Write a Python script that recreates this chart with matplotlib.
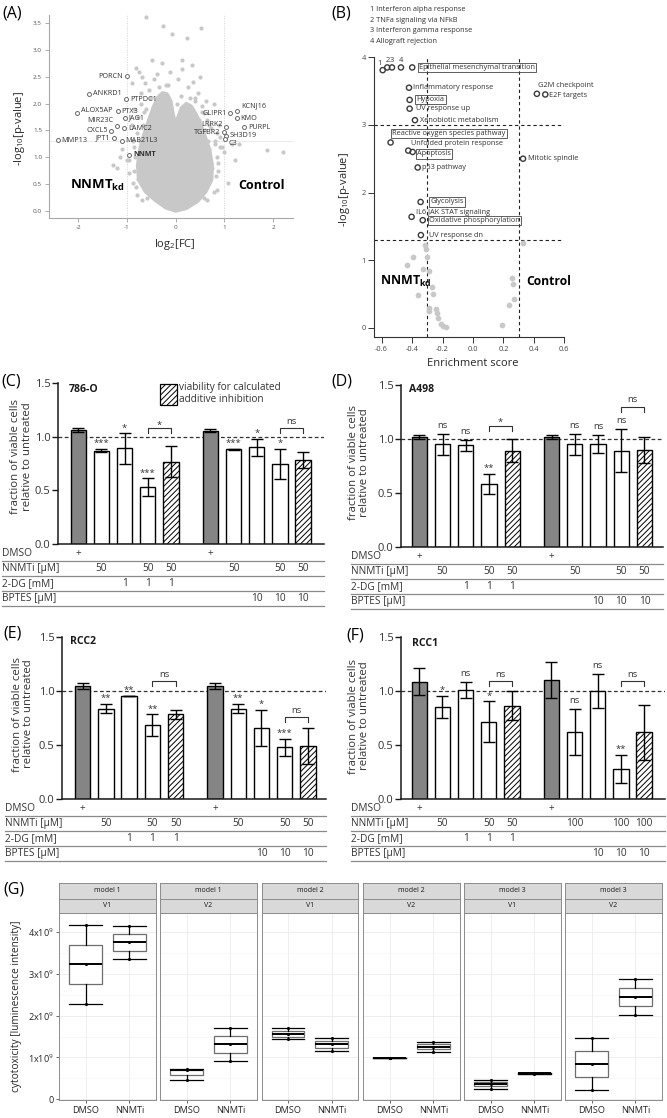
import matplotlib
matplotlib.use("Agg")
import matplotlib.pyplot as plt
import matplotlib.transforms as mtransforms
from matplotlib.patches import Rectangle
from matplotlib.lines import Line2D
from matplotlib.ticker import MultipleLocator

plt.rcParams["font.family"] = ["Open Sans", "DejaVu Sans"]
plt.rcParams["mathtext.fontset"] = "custom"
plt.rcParams["mathtext.rm"] = "Open Sans"
plt.rcParams["mathtext.it"] = "Open Sans:italic"
plt.rcParams["mathtext.bf"] = "Open Sans:bold"
plt.rcParams["hatch.linewidth"] = 0.7
plt.rcParams["axes.unicode_minus"] = False

# ======================= DATA =======================
# (A) volcano plot - labelled genes
volcano_genes = ["PORCN", "ANKRD1", "PTPDC1", "ALOX5AP", "PTX3", "JAG1", "MIR23C", "LAMC2",
                 "CXCL5", "JPT1", "MMP13", "MAB21L3", "NNMT", "GLIPR1", "KCNJ16", "KMO",
                 "LRRK2", "PURPL", "TGFBR2", "SH3D19", "C3"]
volcano_lfc = [-1.00, -1.77, -1.01, -2.02, -1.19, -1.03, -1.21, -1.05, -1.32, -1.27, -2.42,
               -1.10, -0.95, 1.12, 1.27, 1.26, 1.04, 1.41, 1.00, 1.03, 1.02]
volcano_logp = [2.51, 2.18, 2.08, 1.82, 1.86, 1.73, 1.59, 1.54, 1.49, 1.36, 1.32, 1.31,
                1.05, 1.82, 1.87, 1.73, 1.57, 1.56, 1.47, 1.40, 1.34]
volcano_side = ["L", "R", "R", "R", "R", "R", "L", "R", "L", "L", "R", "R", "R", "L", "R",
                "R", "L", "R", "L", "R", "R"]
volcano_dy_px = [0, 0, 0, 2.3, 0, 0, 4.7, 0, 0, 0, 0, 0, 0, 0, 4.7, 0, 2.7, 0, 0, 0, -4]
# dense protein cloud outline (log2FC, -log10 p)
cloud_lfc = [0.0, -0.20, -0.42, -0.62, -0.76, -0.78, -0.74, -0.66, -0.55, -0.45, -0.36,
             -0.27, -0.18, -0.10, -0.05, 0.0, 0.05, 0.12, 0.22, 0.32, 0.42, 0.50, 0.60,
             0.70, 0.75, 0.74, 0.62, 0.45, 0.22]
cloud_logp = [0.0, 0.06, 0.20, 0.36, 0.58, 0.85, 1.13, 1.40, 1.70, 1.95, 2.12, 2.20, 2.18,
              2.05, 1.80, 1.60, 1.75, 1.92, 2.00, 1.95, 1.80, 1.65, 1.40, 1.13, 0.85, 0.58,
              0.36, 0.18, 0.05]
# scattered proteins outside the dense cloud
bg_lfc = [-0.61, -0.26, 0.52, -0.08, 0.23, -0.49, 0.13, -0.28, -0.81, -0.75, -0.69, 0.50,
          0.14, -0.11, 0.33, -0.90, -0.62, -0.38, -0.45, 0.05, 0.35, -0.15, 0.25, -0.55,
          0.45, -0.72, 0.78, 0.58, 0.65, 0.72, 0.85, 0.91, 0.80, 0.95, 0.68, 1.21, 1.08,
          0.88, 0.75, 1.15, 1.87, 2.21, 0.62, 0.55, 0.90, 1.00, 0.70, 0.85, 1.30, -1.00,
          -1.28, -1.21, -0.87, -1.10, -0.85, -0.80, -0.90, -0.78, -0.85, -0.95, -0.80,
          -0.70, -1.15, -0.72, -0.65, 0.40, -0.35, 0.02, -0.02, 0.30, 0.66, 0.72, -0.74,
          -0.77, 0.60, 0.48, -0.86, -0.84, -0.88, -0.82, 0.82, 0.84, 0.80, 0.86, -0.58,
          -0.50, 0.58, 0.68, -0.66, 0.64, 0.12, -0.20, 0.40, -0.95, 0.92, 0.78, -0.60, 0.55]
bg_logp = [3.61, 3.45, 3.40, 3.29, 3.22, 2.82, 2.82, 2.75, 2.66, 2.58, 2.50, 2.50, 2.65,
           2.59, 2.72, 2.38, 2.38, 2.55, 2.45, 2.45, 2.40, 2.35, 2.30, 2.25, 2.20, 2.20,
           1.99, 1.82, 1.70, 1.55, 1.45, 1.38, 1.25, 1.20, 1.15, 0.95, 0.52, 0.90, 0.80,
           1.25, 1.14, 1.10, 2.05, 1.95, 1.60, 1.10, 0.60, 0.40, 1.25, 0.95, 0.86, 0.80,
           0.52, 1.15, 1.20, 1.45, 1.60, 1.75, 1.90, 0.70, 0.30, 0.20, 1.00, 2.00, 1.85,
           2.05, 2.30, 2.00, 1.55, 2.10, 1.30, 0.90, 1.30, 0.60, 1.50, 1.70, 0.75, 1.00,
           1.30, 0.45, 0.65, 1.00, 1.30, 0.75, 0.25, 2.10, 0.25, 1.60, 1.60, 0.20, 2.15,
           2.35, 2.10, 0.95, 1.20, 0.35, 1.90, 1.85]

# (B) GSEA hallmark pathways
gsea_terms = ["Interferon alpha response", "TNFa signaling via NFkB", "Interferon gamma response",
              "Allograft rejection", "Epithelial mesenchymal transition", "Inflammatory response",
              "Hypoxia", "UV response up", "Xenobiotic metabolism", "Reactive oxygen species pathway",
              "Unfolded protein response", "Apoptosis", "p53 pathway", "G2M checkpoint",
              "E2F targets", "Mitotic spindle", "Glycolysis", "IL6 JAK STAT signaling",
              "Oxidative phosphorylation", "UV response dn"]
gsea_es = [-0.593, -0.563, -0.532, -0.473, -0.399, -0.420, -0.416, -0.416, -0.381, -0.541,
           -0.425, -0.396, -0.363, 0.420, 0.475, 0.329, -0.344, -0.403, -0.330, -0.342]
gsea_logp = [3.81, 3.85, 3.85, 3.85, 3.85, 3.55, 3.37, 3.24, 3.07, 2.74, 2.62, 2.60, 2.37,
             3.46, 3.45, 2.50, 1.86, 1.64, 1.59, 1.37]
gsea_label = ["1", "2", "3", "4", "Epithelial mesenchymal transition", "Inflammatory response",
              "Hypoxia", "UV response up", "Xenobiotic metabolism", "Reactive oxygen species pathway",
              "Unfolded protein response", "Apoptosis", "p53 pathway", "G2M checkpoint",
              "E2F targets", "Mitotic spindle", "Glycolysis", "IL6 JAK STAT signaling",
              "Oxidative phosphorylation", "UV response dn"]
gsea_boxed = [False, False, False, False, True, False, True, False, False, True, False, True,
              False, False, False, False, True, False, True, False]
gsea_dx_px = [-2.7, 0.4, 0, 0, 6.5, 4.3, 6.8, 6, 5, 1.5, 2.7, 4.8, 4.3, 1.3, 4, 4.7, 9.5, 4.3,
              6.1, 7.7]
gsea_dy_px = [7, 6.6, 6.6, 7, 0, 0, 0, 0, 0, 9, 6.7, -2, 0, 8, -1.3, 0, 0, 4.4, 0, 0]
gsea_ns_es = [-0.313, -0.31, -0.30, -0.394, -0.43, -0.328, -0.287, -0.27, -0.26, -0.363, -0.287,
              -0.29, -0.243, -0.235, -0.228, -0.212, -0.20, -0.18, 0.326, 0.254, 0.263, 0.27,
              0.237, 0.19]
gsea_ns_logp = [1.22, 1.16, 1.04, 1.05, 0.93, 0.87, 0.84, 0.60, 0.50, 0.48, 0.29, 0.24, 0.27,
                0.22, 0.15, 0.06, 0.03, 0.01, 1.25, 0.74, 0.65, 0.42, 0.33, 0.04]
gsea_legend = ["1 Interferon alpha response", "2 TNFa signaling via NFkB",
               "3 Interferon gamma response", "4 Allograft rejection"]

# (C)-(F) viability bar charts (10 conditions)
bar_kind = ["dmso", "single", "single", "combo", "calc", "dmso", "single", "single", "combo", "calc"]
row_labels = ["DMSO", "NNMTi [µM]", "2-DG [mM]", "BPTES [µM]"]
table_50 = [["+", "", "", "", "", "+", "", "", "", ""],
            ["", "50", "", "50", "50", "", "50", "", "50", "50"],
            ["", "", "1", "1", "1", "", "", "", "", ""],
            ["", "", "", "", "", "", "", "10", "10", "10"]]
table_rcc1 = [["+", "", "", "", "", "+", "", "", "", ""],
              ["", "50", "", "50", "50", "", "100", "", "100", "100"],
              ["", "", "1", "1", "1", "", "", "", "", ""],
              ["", "", "", "", "", "", "", "10", "10", "10"]]

c786_mean = [1.062, 0.870, 0.890, 0.530, 0.768, 1.056, 0.882, 0.900, 0.743, 0.783]
c786_err = [0.020, 0.015, 0.140, 0.082, 0.140, 0.010, 0.006, 0.076, 0.140, 0.076]
c786_sig = ["", "***", "*", "***", "", "", "***", "*", "*", ""]
c786_bracket_y = [1.077, 1.077]
c786_bracket_txt = ["*", "ns"]

a498_mean = [1.020, 0.950, 0.940, 0.580, 0.890, 1.020, 0.950, 0.950, 0.890, 0.900]
a498_err = [0.020, 0.095, 0.050, 0.095, 0.105, 0.020, 0.095, 0.085, 0.200, 0.120]
a498_sig = ["", "ns", "ns", "**", "", "", "ns", "ns", "ns", ""]
a498_bracket_y = [1.12, 1.30]
a498_bracket_txt = ["*", "ns"]

rcc2_mean = [1.040, 0.833, 0.950, 0.682, 0.780, 1.040, 0.833, 0.657, 0.475, 0.488]
rcc2_err = [0.028, 0.043, 0.000, 0.100, 0.045, 0.028, 0.043, 0.165, 0.076, 0.170]
rcc2_sig = ["", "**", "**", "**", "", "", "**", "*", "***", ""]
rcc2_bracket_y = [1.09, 0.753]
rcc2_bracket_txt = ["ns", "ns"]

rcc1_mean = [1.085, 0.849, 1.010, 0.713, 0.864, 1.100, 0.620, 1.000, 0.278, 0.617]
rcc1_err = [0.125, 0.105, 0.073, 0.190, 0.135, 0.170, 0.210, 0.155, 0.128, 0.256]
rcc1_sig = ["", "*", "ns", "*", "", "", "ns", "ns", "**", ""]
rcc1_bracket_y = [1.086, 1.086]
rcc1_bracket_txt = ["ns", "ns"]

# (G) cytotoxicity boxplots (x 1e9 luminescence)
g_model = ["model 1", "model 1", "model 2", "model 2", "model 3", "model 3"]
g_version = ["V1", "V2", "V1", "V2", "V1", "V2"]
g_groups = ["DMSO", "NNMTi"]
g_dmso = [[2.27, 3.23, 4.18], [0.46, 0.69, 0.72], [1.43, 1.56, 1.70],
          [0.985, 0.99, 0.995], [0.25, 0.36, 0.46], [0.23, 0.85, 1.47]]
g_nnmti = [[3.36, 3.76, 4.14], [0.91, 1.31, 1.70], [1.15, 1.32, 1.46],
           [1.13, 1.26, 1.38], [0.61, 0.615, 0.625], [2.02, 2.45, 2.88]]
g_ticks = [0, 1, 2, 3, 4]

# ======================= FIGURE =======================
W, H = 667, 1118
fig = plt.figure(figsize=(W / 100, H / 100), dpi=100)
GREY = "#c8c8c8"
TXT = "#262626"


def px_axes(l, t, r, b):
    return fig.add_axes([l / W, 1 - b / H, (r - l) / W, (b - t) / H])


def fig_text(x, y, s, **kw):
    return fig.text(x / W, 1 - y / H, s, **kw)


PT = 0.72  # points per pixel

# ---------------- (A) ----------------
axA = px_axes(49, 15, 293, 218)
axA.set_xlim(-2.6, 2.41)
axA.set_ylim(-0.13, 3.65)
axA.axvline(-1, color="#d4d4d4", ls=(0, (1, 1.5)), lw=0.7, zorder=1)
axA.axvline(1, color="#d4d4d4", ls=(0, (1, 1.5)), lw=0.7, zorder=1)
axA.axhline(1.3, color="#e8e8e8", lw=0.6, zorder=1)
axA.fill(cloud_lfc, cloud_logp, color=GREY, lw=2.5, ec=GREY, joinstyle="round", zorder=2)
axA.scatter(bg_lfc, bg_logp, s=9, color=GREY, lw=0, zorder=2)
axA.scatter(volcano_lfc, volcano_logp, s=8, facecolor="white", edgecolor="#666666",
            lw=0.7, zorder=3)
for g, x, y, side, dy in zip(volcano_genes, volcano_lfc, volcano_logp, volcano_side, volcano_dy_px):
    dx = 2.6 if side == "R" else -2.6
    axA.annotate(g, (x, y), xytext=(dx, dy * PT), textcoords="offset points",
                 ha="left" if side == "R" else "right", va="center", fontsize=5.2,
                 color="#333333", fontweight="bold" if g == "NNMT" else "normal", zorder=4)
axA.text(-2.16, 0.47, r"$\mathbf{NNMT}_{\mathbf{kd}}$", fontsize=9.5, ha="left", va="center",
         color="black")
axA.text(1.28, 0.47, "Control", fontsize=9, fontweight="bold", ha="left", va="center",
         color="black")
for s in ["top", "right"]:
    axA.spines[s].set_visible(False)
for s in ["left", "bottom"]:
    axA.spines[s].set_color("#a8a8a8")
    axA.spines[s].set_linewidth(0.8)
axA.set_xticks([-2, -1, 0, 1, 2])
axA.set_yticks([0, 0.5, 1, 1.5, 2, 2.5, 3, 3.5])
axA.set_yticklabels(["0.0", "0.5", "1.0", "1.5", "2.0", "2.5", "3.0", "3.5"])
axA.tick_params(labelsize=4.6, colors="#a0a0a0", labelcolor="#555555", length=3, width=0.6,
                pad=2)
fig_text(20, 129, r"-log$_{10}$[p-value]", rotation=90, ha="center", va="center",
         fontsize=8, color=TXT)
fig_text(175, 244, r"log$_{2}$[FC]", ha="center", va="center", fontsize=8, color=TXT)
fig_text(2, 14, "(A)", fontsize=11.5, ha="left", va="center", color="black")

# ---------------- (B) ----------------
axB = px_axes(374.3, 57.3, 564.3, 337.3)
axB.set_xlim(-0.648, 0.6)
axB.set_ylim(-0.142, 4.0)
for xv in (-0.3, 0.3):
    axB.axvline(xv, color="#222222", ls=(0, (3, 2.5)), lw=0.8, zorder=1)
for yv in (3.0, 1.3):
    axB.axhline(yv, color="#222222", ls=(0, (3, 2.5)), lw=0.8, zorder=1)
axB.scatter(gsea_ns_es, gsea_ns_logp, s=17, color=GREY, lw=0, zorder=2)
axB.scatter(gsea_es, gsea_logp, s=14, facecolor="none", edgecolor="#3a3a3a", lw=1.0, zorder=3)
for lab, x, y, boxed, dx, dy in zip(gsea_label, gsea_es, gsea_logp, gsea_boxed, gsea_dx_px, gsea_dy_px):
    if lab in ("1", "2", "3", "4"):
        axB.annotate(lab, (x, y), xytext=(dx * PT, dy * PT), textcoords="offset points",
                     ha="center", va="center", fontsize=5.4, color="#333333", zorder=4,
                     annotation_clip=False)
        continue
    bbox = dict(boxstyle="square,pad=0.15", fc="none", ec="#444444", lw=0.6) if boxed else None
    axB.annotate(lab, (x, y), xytext=(dx * PT, dy * PT), textcoords="offset points",
                 ha="left", va="center", fontsize=5.3, color="#333333", bbox=bbox, zorder=4,
                 annotation_clip=False)
axB.text(-0.611, 0.69, r"$\mathbf{NNMT}_{\mathbf{kd}}$", fontsize=9, ha="left", va="center")
axB.text(0.348, 0.69, "Control", fontsize=8.7, fontweight="bold", ha="left", va="center")
for s in ["top", "right"]:
    axB.spines[s].set_visible(False)
for s in ["left", "bottom"]:
    axB.spines[s].set_color("#333333")
    axB.spines[s].set_linewidth(0.8)
axB.set_xticks([-0.6, -0.4, -0.2, 0.0, 0.2, 0.4, 0.6])
axB.set_xticklabels(["-0.6", "-0.4", "-0.2", "0.0", "0.2", "0.4", "0.6"])
axB.set_yticks([0, 1, 2, 3, 4])
axB.tick_params(labelsize=5.4, colors="#333333", labelcolor="#444444", length=4, width=0.7,
                pad=2)
fig_text(345, 190, r"-log$_{10}$[p-value]", rotation=90, ha="center", va="center",
         fontsize=8, color=TXT)
fig_text(473, 363, "Enrichment score", ha="center", va="center", fontsize=8, color=TXT)
fig_text(331, 14, "(B)", fontsize=11.5, ha="left", va="center", color="black")
for k, line in enumerate(gsea_legend):
    fig_text(370, 9.3 + k * 10.8, line, fontsize=5.3, ha="left", va="center", color="#333333")

# ---------------- (C)-(F) bar charts ----------------
bar_pos = [i + (0.7 if i >= 5 else 0.0) for i in range(len(bar_kind))]


def bar_panel(rect, xlim, label_left_px, means, errs, sigs, br_y, br_txt, table,
              title, title_px, panel_lab, panel_lab_px, ylab_px):
    l, t, r, b = rect
    ax = px_axes(l, t, r, b)
    ax.set_xlim(*xlim)
    ax.set_ylim(0, 1.5)
    ax.axhline(1.0, color="#333333", ls=(0, (3, 2)), lw=0.9, zorder=1)
    for x, m, k in zip(bar_pos, means, bar_kind):
        fc = "#858585" if k == "dmso" else "white"
        hatch = "//////" if k == "calc" else None
        ax.bar(x, m, width=0.66, color=fc, edgecolor="black", lw=1.0, hatch=hatch, zorder=2)
    ax.errorbar(bar_pos, means, yerr=errs, fmt="none", ecolor="black", elinewidth=1.0,
                capsize=4.2, capthick=1.0, zorder=3)
    for x, m, e, s in zip(bar_pos, means, errs, sigs):
        if s:
            off = 4.5 if s == "ns" else 2.0
            ax.annotate(s, (x, m + e), xytext=(0, off), textcoords="offset points",
                        ha="center", va="baseline", fontsize=6.8, color="#333333")
    ppu = (b - t) / 1.5  # pixels per unit
    arm = 5.0 / ppu
    for (i1, i2), yb, txt in zip([(3, 4), (8, 9)], br_y, br_txt):
        x1, x2 = bar_pos[i1], bar_pos[i2]
        ax.plot([x1, x1, x2, x2], [yb - arm, yb, yb, yb - arm], color="#333333", lw=0.8,
                zorder=3)
        off = 3.0 if txt == "ns" else 0.5
        ax.annotate(txt, ((x1 + x2) / 2, yb), xytext=(0, off), textcoords="offset points",
                    ha="center", va="baseline", fontsize=6.8, color="#333333")
    for s in ["top", "right"]:
        ax.spines[s].set_visible(False)
    for s in ["left", "bottom"]:
        ax.spines[s].set_linewidth(1.1)
        ax.spines[s].set_color("#1a1a1a")
    ax.set_xticks([])
    ax.set_yticks([0, 0.5, 1.0, 1.5])
    ax.set_yticklabels(["0.0", "0.5", "1.0", "1.5"])
    ax.tick_params(axis="y", labelsize=8.0, length=4, width=1.0, pad=1.5, colors="#1a1a1a",
                   labelcolor="#333333")
    # treatment table
    trans = mtransforms.blended_transform_factory(ax.transData, fig.transFigure)
    for k, (rl, row) in enumerate(zip(row_labels, table)):
        ytxt = b + 9.5 + 15 * k
        yline = b + 17 + 15 * k
        fig_text(label_left_px, ytxt, rl, fontsize=7.3, ha="left", va="center", color="#333333")
        for x, v in zip(bar_pos, row):
            if v:
                ax.text(x, 1 - ytxt / H, v, transform=trans, fontsize=7.3, ha="center",
                        va="center", color="#333333")
        fig.add_artist(Line2D([label_left_px / W, r / W], [1 - yline / H, 1 - yline / H],
                              color="#8a8a8a", lw=0.9))
    fig_text(title_px[0], title_px[1], title, fontsize=7.6, fontweight="bold", ha="left",
             va="center", color="#1a1a1a")
    fig_text(panel_lab_px[0], panel_lab_px[1], panel_lab, fontsize=11.5, ha="left",
             va="center", color="black")
    fig_text(ylab_px[0], ylab_px[1], "fraction of viable cells\nrelative to untreated",
             rotation=90, ha="center", va="center", fontsize=8.2, linespacing=1.0,
             color="#333333")
    return ax


axC = bar_panel((58.3, 382.7, 324, 544.3), (-0.86, 10.6), 2, c786_mean, c786_err, c786_sig,
                c786_bracket_y, c786_bracket_txt, table_50, "786-O", (69, 390), "(C)", (1, 381),
                (21.5, 457))
# legend for hatched bar
fig.add_artist(Rectangle((160 / W, 1 - 405 / H), 17 / W, 21 / H, transform=fig.transFigure,
                         facecolor="white", edgecolor="black", lw=0.9, hatch="//////"))
fig_text(179, 393.5, "viability for calculated\nadditive inhibition", fontsize=7.2,
         ha="left", va="center", linespacing=1.05, color="#333333")

axD = bar_panel((401, 385, 663, 546.7), (-0.79, 10.5), 351, a498_mean, a498_err, a498_sig,
                a498_bracket_y, a498_bracket_txt, table_50, "A498", (409, 390), "(D)", (331, 381),
                (359, 463))
axE = bar_panel((62.3, 636.7, 326, 798.7), (-0.88, 10.48), 5, rcc2_mean, rcc2_err, rcc2_sig,
                rcc2_bracket_y, rcc2_bracket_txt, table_50, "RCC2", (70, 641), "(E)", (3, 634),
                (23, 714))
axF = bar_panel((401, 636.7, 665, 799), (-0.79, 10.6), 351, rcc1_mean, rcc1_err, rcc1_sig,
                rcc1_bracket_y, rcc1_bracket_txt, table_rcc1, "RCC1", (412, 643), "(F)", (346, 636),
                (359, 716))

# ---------------- (G) boxplots ----------------
g_left = [59.3, 160.3, 261.7, 363.3, 464.3, 565.3]
g_w = 96.4
for i in range(6):
    l = g_left[i]
    ax = px_axes(l, 913, l + g_w, 1100)
    dm = [v * 1e9 for v in g_dmso[i]]
    nn = [v * 1e9 for v in g_nnmti[i]]
    ax.boxplot([dm, nn], positions=[1, 2], widths=0.75, whis=(0, 100), showfliers=False,
               patch_artist=True, capwidths=0.75, manage_ticks=False,
               boxprops=dict(facecolor="white", edgecolor="#6e6e6e", lw=0.9),
               medianprops=dict(color="black", lw=1.4),
               whiskerprops=dict(color="black", lw=0.9),
               capprops=dict(color="black", lw=0.9))
    ax.scatter([1] * len(dm) + [2] * len(nn), dm + nn, s=5, color="black", zorder=4, lw=0)
    ax.set_xlim(0.4, 2.6)
    ax.set_ylim(-0.02e9, 4.46e9)
    ax.set_axisbelow(True)
    ax.set_yticks([v * 1e9 for v in g_ticks])
    ax.yaxis.set_minor_locator(MultipleLocator(0.5e9))
    ax.set_xticks([1, 2])
    ax.set_xticklabels(g_groups)
    ax.grid(which="major", color="#ebebeb", lw=0.6)
    ax.grid(which="minor", axis="y", color="#f4f4f4", lw=0.4)
    for s in ax.spines.values():
        s.set_color("#8c8c8c")
        s.set_linewidth(0.7)
    ax.tick_params(axis="x", labelsize=6.6, length=2.5, width=0.6, colors="#4d4d4d",
                   labelcolor="#262626", pad=2)
    ax.tick_params(axis="y", which="minor", length=0)
    if i == 0:
        ax.set_yticklabels(["0"] + [r"%dx10$^{9}$" % v for v in g_ticks[1:]])
        ax.tick_params(axis="y", labelsize=6.6, length=2.5, width=0.6, colors="#4d4d4d",
                       labelcolor="#262626", pad=1.5)
    else:
        ax.tick_params(axis="y", length=0, labelleft=False)
    for (t0, b0, txt) in [(883, 898.5, g_model[i]), (898.5, 913, g_version[i])]:
        sax = px_axes(l, t0, l + g_w, b0)
        sax.set_facecolor("#d9d9d9")
        sax.set_xticks([])
        sax.set_yticks([])
        for s in sax.spines.values():
            s.set_color("#8c8c8c")
            s.set_linewidth(0.7)
        sax.text(0.5, 0.5, txt, transform=sax.transAxes, ha="center", va="center",
                 fontsize=5.0, color="#1a1a1a")

fig_text(17, 1006, "cytotoxicity [luminescence intensity]", rotation=90, ha="center",
         va="center", fontsize=7.3, color="#262626")
fig_text(3, 889, "(G)", fontsize=11.5, ha="left", va="center", color="black")

fig.savefig("out.png", dpi=100)
